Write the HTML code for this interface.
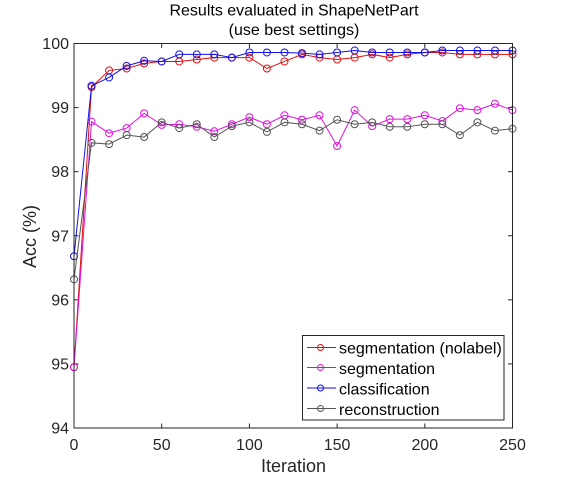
<!DOCTYPE html>
<html>
<head>
<meta charset="utf-8">
<title>Results evaluated in ShapeNetPart</title>
<style>
html,body{margin:0;padding:0;background:#fff;width:567px;height:482px;overflow:hidden}
svg{display:block}
text{font-family:"Liberation Sans",sans-serif}
</style>
</head>
<body>
<svg id="chart" width="567" height="482" viewBox="0 0 567 482" xmlns="http://www.w3.org/2000/svg">
  <text x="294" y="15.500" font-size="16" text-anchor="middle" fill="#000">Results evaluated in ShapeNetPart</text>
  <text x="294" y="35" font-size="16" text-anchor="middle" fill="#000">(use best settings)</text>
  <text x="293.500" y="472" font-size="18" text-anchor="middle" fill="#262626">Iteration</text>
  <text transform="translate(36 236.500) rotate(-90)" font-size="18" text-anchor="middle" fill="#262626">Acc (%)</text>
  <g id="ticks"></g>
  <g id="series"></g>
  <rect x="74" y="43.500" width="438.500" height="384.500" fill="none" stroke="#262626" stroke-width="1"/>
  <g>
    <rect x="302.500" y="335.500" width="201.500" height="84.500" fill="#fff" stroke="#262626" stroke-width="1"/>
    <g>
      <line x1="307" x2="336" y1="347.500" y2="347.500" stroke="#d01010" stroke-width="1"/>
      <circle cx="320.500" cy="347.500" r="3" fill="none" stroke="#e01010" stroke-width="1"/>
      <text x="339" y="353.500" font-size="16" fill="#000">segmentation (nolabel)</text>
    </g>
    <g>
      <line x1="307" x2="336" y1="367.500" y2="367.500" stroke="#d010d0" stroke-width="1"/>
      <circle cx="320.500" cy="367.500" r="3" fill="none" stroke="#e010e0" stroke-width="1"/>
      <text x="339" y="374" font-size="16" fill="#000">segmentation</text>
    </g>
    <g>
      <line x1="307" x2="336" y1="388" y2="388" stroke="#1010e0" stroke-width="1"/>
      <circle cx="320.500" cy="388" r="3" fill="none" stroke="#1010e0" stroke-width="1"/>
      <text x="339" y="394.500" font-size="16" fill="#000">classification</text>
    </g>
    <g>
      <line x1="307" x2="336" y1="408.500" y2="408.500" stroke="#555" stroke-width="1"/>
      <circle cx="320.500" cy="408.500" r="3" fill="none" stroke="#555" stroke-width="1"/>
      <text x="339" y="415" font-size="16" fill="#000">reconstruction</text>
    </g>
  </g>
</svg>
<script>
const iterations = [0,10,20,30,40,50,60,70,80,90,100,110,120,130,140,150,160,170,180,190,200,210,220,230,240,250];
const xTickLabels = [0,50,100,150,200,250];
const yTickLabels = [94,95,96,97,98,99,100];
const segmentationNolabel = [94.95,99.32,99.58,99.61,99.69,99.72,99.72,99.75,99.78,99.78,99.78,99.61,99.72,99.83,99.78,99.75,99.78,99.83,99.78,99.83,99.86,99.86,99.83,99.83,99.83,99.83];
const segmentation = [94.95,98.78,98.60,98.68,98.91,98.73,98.74,98.70,98.63,98.74,98.85,98.74,98.88,98.81,98.88,98.40,98.96,98.71,98.82,98.82,98.88,98.79,98.99,98.96,99.06,98.96];
const classification = [96.68,99.34,99.47,99.65,99.73,99.72,99.83,99.83,99.83,99.78,99.86,99.86,99.86,99.85,99.83,99.86,99.89,99.86,99.86,99.86,99.86,99.89,99.89,99.89,99.89,99.89];
const reconstruction = [96.32,98.45,98.43,98.57,98.54,98.77,98.68,98.74,98.54,98.71,98.77,98.62,98.77,98.74,98.64,98.81,98.74,98.77,98.70,98.70,98.74,98.74,98.57,98.77,98.64,98.67];

const NS = 'http://www.w3.org/2000/svg';
const plot = {left:74, right:512.5, top:43.5, bottom:428};
const xMin = 0, xMax = 250, yMin = 94, yMax = 100;
function xScale(v){ return plot.left + (v - xMin) / (xMax - xMin) * (plot.right - plot.left); }
function yScale(v){ return plot.bottom - (v - yMin) / (yMax - yMin) * (plot.bottom - plot.top); }
function make(tag, parent, attrs){
  const el = document.createElementNS(NS, tag);
  for (const k in attrs) el.setAttribute(k, attrs[k]);
  parent.appendChild(el);
  return el;
}
const tickGroup = document.getElementById('ticks');
const seriesGroup = document.getElementById('series');
const tickStroke = '#262626';
xTickLabels.forEach(function(v){
  const x = xScale(v);
  const b = make('line', tickGroup, {x1:x, x2:x, y1:plot.bottom, y2:plot.bottom-4.500, stroke:tickStroke});
  
  
  const t = make('line', tickGroup, {x1:x, x2:x, y1:plot.top, y2:plot.top+4.500, stroke:tickStroke});
  
  
  const l = make('text', tickGroup, {x:x, y:450, 'font-size':16, 'text-anchor':'middle', fill:tickStroke});
  
  
  l.textContent = v;
});
yTickLabels.forEach(function(v){
  const y = yScale(v);
  const a = make('line', tickGroup, {x1:plot.left, x2:plot.left+4.500, y1:y, y2:y, stroke:tickStroke});
  
  
  const c = make('line', tickGroup, {x1:plot.right, x2:plot.right-4.500, y1:y, y2:y, stroke:tickStroke});
  
  
  const l = make('text', tickGroup, {x:69, y:y+5.500, 'font-size':16, 'text-anchor':'end', fill:tickStroke});
  
  
  l.textContent = v;
});
function drawSeries(values, color, name){
  const g = make('g', seriesGroup, {});
  
  
  const pts = values.map(function(v, i){ return xScale(iterations[i]).toFixed(2) + ',' + yScale(v).toFixed(2); }).join(' ');
  const line = make('polyline', g, {points:pts, fill:'none', stroke:color, 'stroke-width':1});
  
  
  values.forEach(function(v, i){
    const c = make('circle', g, {cx:xScale(iterations[i]), cy:yScale(v), r:3.500, fill:'none', stroke:color, 'stroke-width':1});
    
    
  });
}
drawSeries(segmentationNolabel, '#e01010', 'segmentation-nolabel-series');
drawSeries(segmentation, '#e010e0', 'segmentation-series');
drawSeries(classification, '#1010e8', 'classification-series');
drawSeries(reconstruction, '#555555', 'reconstruction-series');
</script>
</body>
</html>
